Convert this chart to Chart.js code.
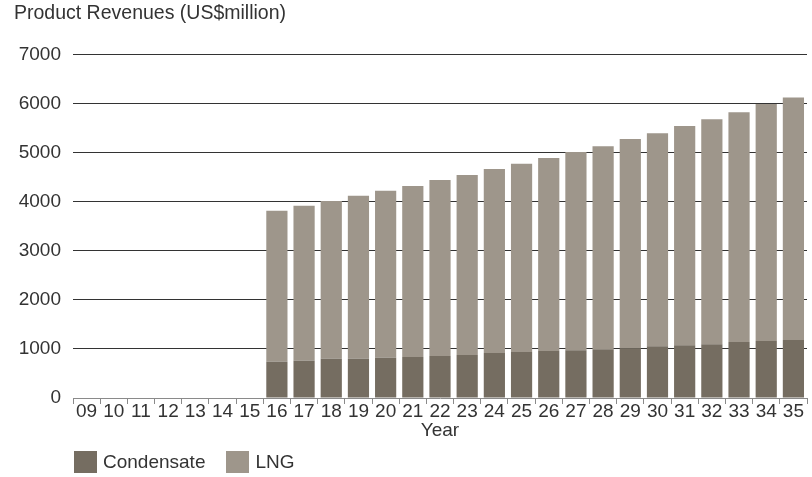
<!DOCTYPE html>
<html>
<head>
<meta charset="utf-8">
<script src="https://cdn.jsdelivr.net/npm/chart.js@4"></script>
<style>
  html, body { margin: 0; padding: 0; background: #fff; }
  #wrap { position: relative; width: 812px; height: 477px; }
  #legend { position: absolute; left: 74px; top: 451px; display: flex; align-items: center;
            font-family: 'Liberation Sans', Arial, sans-serif; font-size: 19px; color: #333; }
  .item { display: flex; align-items: center; margin-right: 21px; }
  .box { width: 23px; height: 22px; margin-right: 6px; }
</style>
</head>
<body>
<div id="wrap">
  <canvas id="c"></canvas>
  <div id="legend"></div>
</div>
<script>
const years = ['09','10','11','12','13','14','15','16','17','18','19','20','21','22','23','24','25','26','27','28','29','30','31','32','33','34','35'];
const condensate = [null,null,null,null,null,null,null,740,760,800,800,820,835,855,875,915,935,955,975,995,1015,1055,1075,1095,1140,1160,1180];
const lng = [null,null,null,null,null,null,null,3075,3155,3215,3320,3400,3485,3585,3670,3750,3835,3935,4035,4135,4260,4340,4465,4585,4680,4830,4940];
const seriesNames = ['Condensate', 'LNG'];
const seriesColors = ['#756d61', '#9e968b'];
const yTicks = [0,1000,2000,3000,4000,5000,6000,7000];

const FONT = "'Liberation Sans', Arial, sans-serif";
const TXT = '#333333';

const chart = new Chart(document.getElementById('c'), {
  type: 'bar',
  data: {
    labels: years,
    datasets: [
      { label: seriesNames[0], data: condensate, backgroundColor: seriesColors[0], borderWidth: 0, categoryPercentage: 1, barPercentage: 0.78 },
      { label: seriesNames[1], data: lng, backgroundColor: seriesColors[1], borderWidth: 0, categoryPercentage: 1, barPercentage: 0.78 }
    ]
  },
  options: {
    responsive: true,
    maintainAspectRatio: false,
    animation: false,
    layout: { padding: { left: 14, right: 5, top: 0, bottom: 37 } },
    plugins: {
      legend: { display: false },
      tooltip: { enabled: false },
      title: {
        display: true,
        text: 'Product Revenues (US$million)',
        align: 'start',
        color: TXT,
        font: { family: FONT, size: 19.5, weight: 'normal', lineHeight: 1.2 },
        padding: { top: 2, bottom: 29 }
      }
    },
    scales: {
      x: {
        stacked: true,
        grid: { offset: true, drawOnChartArea: false, drawTicks: true, tickLength: 6, color: '#8a8a8a' },
        border: { display: true, color: '#8a8a8a' },
        ticks: { color: TXT, font: { family: FONT, size: 19, lineHeight: 1 }, padding: -2, maxRotation: 0, autoSkip: false },
        title: { display: true, text: 'Year', color: TXT, font: { family: FONT, size: 19, lineHeight: 1 }, padding: { top: 2, bottom: 0 } }
      },
      y: {
        stacked: true,
        min: 0,
        max: 7000,
        afterBuildTicks: (s) => { s.ticks = yTicks.map(v => ({ value: v })); },
        afterFit: (s) => { s.width = 59; },
        grid: { drawTicks: false, color: (ctx) => (ctx.tick && ctx.tick.value === 0) ? 'rgba(0,0,0,0)' : '#333333', lineWidth: 1 },
        border: { display: false },
        ticks: { color: TXT, font: { family: FONT, size: 19, lineHeight: 1 }, padding: 12, callback: (v) => String(v) }
      }
    }
  }
});

const lg = document.getElementById('legend');
seriesNames.forEach((n, i) => {
  const it = document.createElement('div'); it.className = 'item';
  const b = document.createElement('div'); b.className = 'box'; b.style.background = seriesColors[i];
  const t = document.createElement('span'); t.textContent = n;
  it.appendChild(b); it.appendChild(t); lg.appendChild(it);
});
</script>
</body>
</html>
